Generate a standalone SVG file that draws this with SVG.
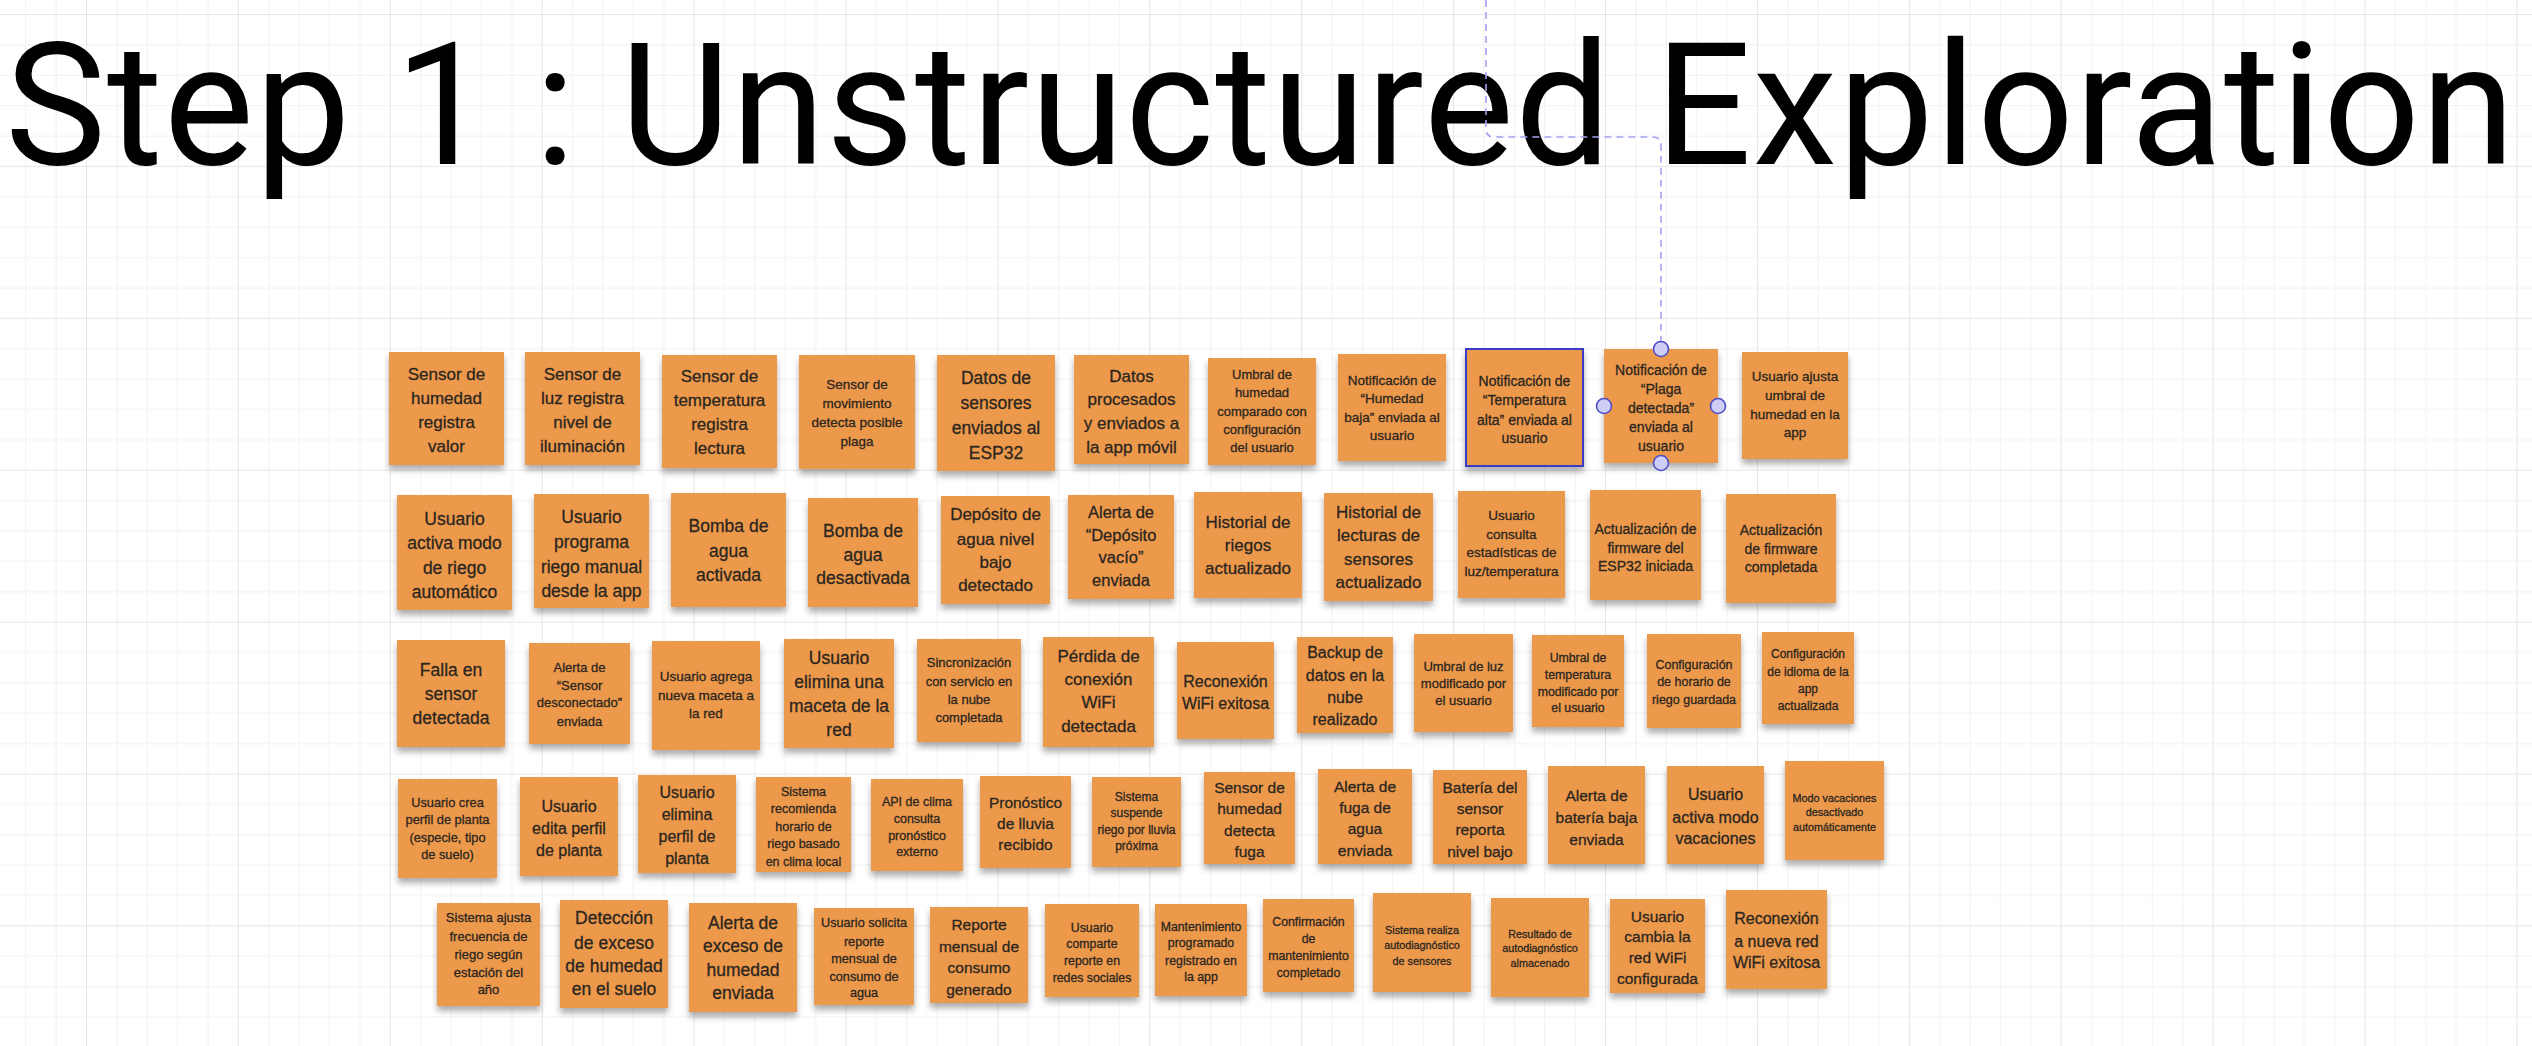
<svg xmlns="http://www.w3.org/2000/svg" width="2532" height="1046" viewBox="0 0 2532 1046">
<defs>
<pattern id="grid" patternUnits="userSpaceOnUse" x="86" y="14" width="151.9" height="151.9">
<rect x="30.38" y="0" width="1" height="151.9" fill="#f1f1f1"/>
<rect x="60.76" y="0" width="1" height="151.9" fill="#f1f1f1"/>
<rect x="91.14" y="0" width="1" height="151.9" fill="#f1f1f1"/>
<rect x="121.52" y="0" width="1" height="151.9" fill="#f1f1f1"/>
<rect x="0" y="30.38" width="151.9" height="1" fill="#f1f1f1"/>
<rect x="0" y="60.76" width="151.9" height="1" fill="#f1f1f1"/>
<rect x="0" y="91.14" width="151.9" height="1" fill="#f1f1f1"/>
<rect x="0" y="121.52" width="151.9" height="1" fill="#f1f1f1"/>
<rect x="0" y="0" width="1" height="151.9" fill="#e5e5e5"/>
<rect x="0" y="0" width="151.9" height="1" fill="#e5e5e5"/>
</pattern>
<filter id="sh" x="-20%" y="-20%" width="140%" height="150%">
<feDropShadow dx="0" dy="5" stdDeviation="3" flood-color="#000" flood-opacity="0.32"/>
</filter>
</defs>
<style>
.note{fill:#ED994B;filter:url(#sh)}
.sel{stroke:#3b3bc6;stroke-width:2}
.t{font-family:'Liberation Sans',Arial,sans-serif;fill:#2b2620;stroke:#2b2620;stroke-width:0.3;text-anchor:middle}
.title{font-family:Roboto,'Liberation Sans',Arial,sans-serif;fill:#000;font-size:170px}
.conn{fill:none;stroke:#a3a3f3;stroke-width:1.6;stroke-dasharray:7 5}
.handle{fill:#cdcdf6;stroke:#4d4dc9;stroke-width:1.6}
</style>
<rect width="2532" height="1046" fill="#ffffff"/>
<rect width="2532" height="1046" fill="url(#grid)"/>
<text class="title" x="5" y="164" textLength="2510" lengthAdjust="spacing">Step 1 : Unstructured Exploration</text>
<g id="connectors">
<path class="conn" d="M1486,0 V129 Q1486,137 1494,137 H1653 Q1661,137 1661,145 V341"/>
</g>
<g id="r1n1"><rect class="note" x="389" y="352" width="115" height="113"/><text class="t" style="font-size:17px"><tspan x="446.5" y="380">Sensor de</tspan><tspan x="446.5" y="404">humedad</tspan><tspan x="446.5" y="428">registra</tspan><tspan x="446.5" y="452">valor</tspan></text></g>
<g id="r1n2"><rect class="note" x="525" y="352" width="115" height="113"/><text class="t" style="font-size:17px"><tspan x="582.5" y="380">Sensor de</tspan><tspan x="582.5" y="404">luz registra</tspan><tspan x="582.5" y="428">nivel de</tspan><tspan x="582.5" y="452">iluminación</tspan></text></g>
<g id="r1n3"><rect class="note" x="662" y="355" width="115" height="113"/><text class="t" style="font-size:17px"><tspan x="719.5" y="382">Sensor de</tspan><tspan x="719.5" y="406">temperatura</tspan><tspan x="719.5" y="430">registra</tspan><tspan x="719.5" y="454">lectura</tspan></text></g>
<g id="r1n4"><rect class="note" x="799" y="355" width="116" height="114"/><text class="t" style="font-size:13.5px"><tspan x="857" y="389">Sensor de</tspan><tspan x="857" y="408">movimiento</tspan><tspan x="857" y="427">detecta posible</tspan><tspan x="857" y="446">plaga</tspan></text></g>
<g id="r1n5"><rect class="note" x="937" y="355" width="118" height="116"/><text class="t" style="font-size:17.5px"><tspan x="996" y="384">Datos de</tspan><tspan x="996" y="409">sensores</tspan><tspan x="996" y="434">enviados al</tspan><tspan x="996" y="459">ESP32</tspan></text></g>
<g id="r1n6"><rect class="note" x="1074" y="355" width="115" height="109"/><text class="t" style="font-size:17px"><tspan x="1131.5" y="382">Datos</tspan><tspan x="1131.5" y="405">procesados</tspan><tspan x="1131.5" y="429">y enviados a</tspan><tspan x="1131.5" y="453">la app móvil</tspan></text></g>
<g id="r1n7"><rect class="note" x="1208" y="358" width="108" height="107"/><text class="t" style="font-size:13px"><tspan x="1262" y="379">Umbral de</tspan><tspan x="1262" y="397">humedad</tspan><tspan x="1262" y="416">comparado con</tspan><tspan x="1262" y="434">configuración</tspan><tspan x="1262" y="452">del usuario</tspan></text></g>
<g id="r1n8"><rect class="note" x="1338" y="354" width="108" height="107"/><text class="t" style="font-size:13.5px"><tspan x="1392" y="385">Notificación de</tspan><tspan x="1392" y="403">“Humedad</tspan><tspan x="1392" y="422">baja” enviada al</tspan><tspan x="1392" y="440">usuario</tspan></text></g>
<g id="r1n9"><rect class="note sel" x="1466" y="349" width="117" height="117"/><text class="t" style="font-size:14px"><tspan x="1524.5" y="386">Notificación de</tspan><tspan x="1524.5" y="405">“Temperatura</tspan><tspan x="1524.5" y="425">alta” enviada al</tspan><tspan x="1524.5" y="443">usuario</tspan></text></g>
<g id="r1n10"><rect class="note" x="1604" y="349" width="114" height="114"/><text class="t" style="font-size:14px"><tspan x="1661" y="375">Notificación de</tspan><tspan x="1661" y="394">“Plaga</tspan><tspan x="1661" y="413">detectada”</tspan><tspan x="1661" y="432">enviada al</tspan><tspan x="1661" y="451">usuario</tspan></text>
<circle class="handle" cx="1661" cy="349" r="7.5"/><circle class="handle" cx="1661" cy="463" r="7.5"/><circle class="handle" cx="1604" cy="406" r="7.5"/><circle class="handle" cx="1718" cy="406" r="7.5"/></g>
<g id="r1n11"><rect class="note" x="1742" y="352" width="106" height="107"/><text class="t" style="font-size:13.5px"><tspan x="1795" y="381">Usuario ajusta</tspan><tspan x="1795" y="400">umbral de</tspan><tspan x="1795" y="419">humedad en la</tspan><tspan x="1795" y="437">app</tspan></text></g>
<g id="r2n1"><rect class="note" x="397" y="495" width="115" height="115"/><text class="t" style="font-size:17.5px"><tspan x="454.5" y="525">Usuario</tspan><tspan x="454.5" y="549">activa modo</tspan><tspan x="454.5" y="574">de riego</tspan><tspan x="454.5" y="598">automático</tspan></text></g>
<g id="r2n2"><rect class="note" x="534" y="494" width="115" height="114"/><text class="t" style="font-size:17.5px"><tspan x="591.5" y="523">Usuario</tspan><tspan x="591.5" y="548">programa</tspan><tspan x="591.5" y="573">riego manual</tspan><tspan x="591.5" y="597">desde la app</tspan></text></g>
<g id="r2n3"><rect class="note" x="671" y="493" width="115" height="114"/><text class="t" style="font-size:17.5px"><tspan x="728.5" y="532">Bomba de</tspan><tspan x="728.5" y="557">agua</tspan><tspan x="728.5" y="581">activada</tspan></text></g>
<g id="r2n4"><rect class="note" x="808" y="498" width="110" height="109"/><text class="t" style="font-size:17.5px"><tspan x="863" y="537">Bomba de</tspan><tspan x="863" y="561">agua</tspan><tspan x="863" y="584">desactivada</tspan></text></g>
<g id="r2n5"><rect class="note" x="941" y="496" width="109" height="108"/><text class="t" style="font-size:17px"><tspan x="995.5" y="520">Depósito de</tspan><tspan x="995.5" y="545">agua nivel</tspan><tspan x="995.5" y="568">bajo</tspan><tspan x="995.5" y="591">detectado</tspan></text></g>
<g id="r2n6"><rect class="note" x="1068" y="495" width="106" height="104"/><text class="t" style="font-size:16.5px"><tspan x="1121" y="518">Alerta de</tspan><tspan x="1121" y="541">“Depósito</tspan><tspan x="1121" y="563">vacío”</tspan><tspan x="1121" y="586">enviada</tspan></text></g>
<g id="r2n7"><rect class="note" x="1194" y="492" width="108" height="106"/><text class="t" style="font-size:17px"><tspan x="1248" y="528">Historial de</tspan><tspan x="1248" y="551">riegos</tspan><tspan x="1248" y="574">actualizado</tspan></text></g>
<g id="r2n8"><rect class="note" x="1324" y="493" width="109" height="108"/><text class="t" style="font-size:17px"><tspan x="1378.5" y="518">Historial de</tspan><tspan x="1378.5" y="541">lecturas de</tspan><tspan x="1378.5" y="565">sensores</tspan><tspan x="1378.5" y="588">actualizado</tspan></text></g>
<g id="r2n9"><rect class="note" x="1458" y="491" width="107" height="107"/><text class="t" style="font-size:13.5px"><tspan x="1511.5" y="520">Usuario</tspan><tspan x="1511.5" y="539">consulta</tspan><tspan x="1511.5" y="557">estadísticas de</tspan><tspan x="1511.5" y="576">luz/temperatura</tspan></text></g>
<g id="r2n10"><rect class="note" x="1590" y="490" width="111" height="110"/><text class="t" style="font-size:14px"><tspan x="1645.5" y="533.5">Actualización de</tspan><tspan x="1645.5" y="552.5">firmware del</tspan><tspan x="1645.5" y="570.5">ESP32 iniciada</tspan></text></g>
<g id="r2n11"><rect class="note" x="1726" y="494" width="110" height="109"/><text class="t" style="font-size:14px"><tspan x="1781" y="534.5">Actualización</tspan><tspan x="1781" y="553.5">de firmware</tspan><tspan x="1781" y="571.5">completada</tspan></text></g>
<g id="r3n1"><rect class="note" x="397" y="640" width="108" height="107"/><text class="t" style="font-size:17.5px"><tspan x="451" y="676">Falla en</tspan><tspan x="451" y="700">sensor</tspan><tspan x="451" y="724">detectada</tspan></text></g>
<g id="r3n2"><rect class="note" x="529" y="643" width="101" height="101"/><text class="t" style="font-size:13px"><tspan x="579.5" y="672">Alerta de</tspan><tspan x="579.5" y="690">“Sensor</tspan><tspan x="579.5" y="707">desconectado”</tspan><tspan x="579.5" y="726">enviada</tspan></text></g>
<g id="r3n3"><rect class="note" x="652" y="641" width="108" height="109"/><text class="t" style="font-size:13.5px"><tspan x="706" y="681">Usuario agrega</tspan><tspan x="706" y="700">nueva maceta a</tspan><tspan x="706" y="718">la red</tspan></text></g>
<g id="r3n4"><rect class="note" x="784" y="639" width="110" height="109"/><text class="t" style="font-size:17.5px"><tspan x="839" y="664">Usuario</tspan><tspan x="839" y="688">elimina una</tspan><tspan x="839" y="712">maceta de la</tspan><tspan x="839" y="736">red</tspan></text></g>
<g id="r3n5"><rect class="note" x="917" y="639" width="104" height="103"/><text class="t" style="font-size:13px"><tspan x="969" y="667">Sincronización</tspan><tspan x="969" y="686">con servicio en</tspan><tspan x="969" y="704">la nube</tspan><tspan x="969" y="722">completada</tspan></text></g>
<g id="r3n6"><rect class="note" x="1043" y="637" width="111" height="110"/><text class="t" style="font-size:17px"><tspan x="1098.5" y="662">Pérdida de</tspan><tspan x="1098.5" y="685">conexión</tspan><tspan x="1098.5" y="708">WiFi</tspan><tspan x="1098.5" y="732">detectada</tspan></text></g>
<g id="r3n7"><rect class="note" x="1177" y="642" width="97" height="97"/><text class="t" style="font-size:16px"><tspan x="1225.5" y="687">Reconexión</tspan><tspan x="1225.5" y="709">WiFi exitosa</tspan></text></g>
<g id="r3n8"><rect class="note" x="1297" y="637" width="96" height="96"/><text class="t" style="font-size:16px"><tspan x="1345" y="658">Backup de</tspan><tspan x="1345" y="681">datos en la</tspan><tspan x="1345" y="703">nube</tspan><tspan x="1345" y="725">realizado</tspan></text></g>
<g id="r3n9"><rect class="note" x="1414" y="634" width="99" height="98"/><text class="t" style="font-size:13px"><tspan x="1463.5" y="671">Umbral de luz</tspan><tspan x="1463.5" y="688">modificado por</tspan><tspan x="1463.5" y="705">el usuario</tspan></text></g>
<g id="r3n10"><rect class="note" x="1532" y="635" width="92" height="92"/><text class="t" style="font-size:12.3px"><tspan x="1578" y="662">Umbral de</tspan><tspan x="1578" y="679">temperatura</tspan><tspan x="1578" y="696">modificado por</tspan><tspan x="1578" y="712">el usuario</tspan></text></g>
<g id="r3n11"><rect class="note" x="1647" y="634" width="94" height="94"/><text class="t" style="font-size:12.5px"><tspan x="1694" y="669">Configuración</tspan><tspan x="1694" y="686">de horario de</tspan><tspan x="1694" y="704">riego guardada</tspan></text></g>
<g id="r3n12"><rect class="note" x="1762" y="632" width="92" height="92"/><text class="t" style="font-size:12px"><tspan x="1808" y="658">Configuración</tspan><tspan x="1808" y="676">de idioma de la</tspan><tspan x="1808" y="693">app</tspan><tspan x="1808" y="710">actualizada</tspan></text></g>
<g id="r4n1"><rect class="note" x="398" y="779" width="99" height="99"/><text class="t" style="font-size:12.8px"><tspan x="447.5" y="807">Usuario crea</tspan><tspan x="447.5" y="824">perfil de planta</tspan><tspan x="447.5" y="842">(especie, tipo</tspan><tspan x="447.5" y="859">de suelo)</tspan></text></g>
<g id="r4n2"><rect class="note" x="520" y="777" width="98" height="99"/><text class="t" style="font-size:16px"><tspan x="569" y="812">Usuario</tspan><tspan x="569" y="834">edita perfil</tspan><tspan x="569" y="856">de planta</tspan></text></g>
<g id="r4n3"><rect class="note" x="638" y="775" width="98" height="98"/><text class="t" style="font-size:16px"><tspan x="687" y="798">Usuario</tspan><tspan x="687" y="820">elimina</tspan><tspan x="687" y="842">perfil de</tspan><tspan x="687" y="864">planta</tspan></text></g>
<g id="r4n4"><rect class="note" x="756" y="777" width="95" height="95"/><text class="t" style="font-size:12.5px"><tspan x="803.5" y="796">Sistema</tspan><tspan x="803.5" y="813">recomienda</tspan><tspan x="803.5" y="831">horario de</tspan><tspan x="803.5" y="848">riego basado</tspan><tspan x="803.5" y="866">en clima local</tspan></text></g>
<g id="r4n5"><rect class="note" x="871" y="779" width="92" height="92"/><text class="t" style="font-size:12.5px"><tspan x="917" y="806">API de clima</tspan><tspan x="917" y="823">consulta</tspan><tspan x="917" y="840">pronóstico</tspan><tspan x="917" y="856">externo</tspan></text></g>
<g id="r4n6"><rect class="note" x="980" y="776" width="91" height="92"/><text class="t" style="font-size:15.5px"><tspan x="1025.5" y="808">Pronóstico</tspan><tspan x="1025.5" y="829">de lluvia</tspan><tspan x="1025.5" y="850">recibido</tspan></text></g>
<g id="r4n7"><rect class="note" x="1092" y="777" width="89" height="90"/><text class="t" style="font-size:12px"><tspan x="1136.5" y="801">Sistema</tspan><tspan x="1136.5" y="817">suspende</tspan><tspan x="1136.5" y="834">riego por lluvia</tspan><tspan x="1136.5" y="850">próxima</tspan></text></g>
<g id="r4n8"><rect class="note" x="1204" y="772" width="91" height="92"/><text class="t" style="font-size:15.5px"><tspan x="1249.5" y="793">Sensor de</tspan><tspan x="1249.5" y="814">humedad</tspan><tspan x="1249.5" y="836">detecta</tspan><tspan x="1249.5" y="857">fuga</tspan></text></g>
<g id="r4n9"><rect class="note" x="1318" y="769" width="94" height="95"/><text class="t" style="font-size:15.5px"><tspan x="1365" y="792">Alerta de</tspan><tspan x="1365" y="813">fuga de</tspan><tspan x="1365" y="834">agua</tspan><tspan x="1365" y="856">enviada</tspan></text></g>
<g id="r4n10"><rect class="note" x="1433" y="770" width="94" height="94"/><text class="t" style="font-size:15.5px"><tspan x="1480" y="793">Batería del</tspan><tspan x="1480" y="814">sensor</tspan><tspan x="1480" y="835">reporta</tspan><tspan x="1480" y="857">nivel bajo</tspan></text></g>
<g id="r4n11"><rect class="note" x="1548" y="766" width="97" height="98"/><text class="t" style="font-size:15.5px"><tspan x="1596.5" y="801">Alerta de</tspan><tspan x="1596.5" y="823">batería baja</tspan><tspan x="1596.5" y="845">enviada</tspan></text></g>
<g id="r4n12"><rect class="note" x="1667" y="766" width="97" height="98"/><text class="t" style="font-size:16px"><tspan x="1715.5" y="800">Usuario</tspan><tspan x="1715.5" y="823">activa modo</tspan><tspan x="1715.5" y="844">vacaciones</tspan></text></g>
<g id="r4n13"><rect class="note" x="1785" y="761" width="99" height="99"/><text class="t" style="font-size:10.8px"><tspan x="1834.5" y="801.5">Modo vacaciones</tspan><tspan x="1834.5" y="815.5">desactivado</tspan><tspan x="1834.5" y="830.5">automáticamente</tspan></text></g>
<g id="r5n1"><rect class="note" x="437" y="903" width="103" height="103"/><text class="t" style="font-size:13px"><tspan x="488.5" y="922">Sistema ajusta</tspan><tspan x="488.5" y="941">frecuencia de</tspan><tspan x="488.5" y="959">riego según</tspan><tspan x="488.5" y="977">estación del</tspan><tspan x="488.5" y="994">año</tspan></text></g>
<g id="r5n2"><rect class="note" x="560" y="900" width="108" height="108"/><text class="t" style="font-size:17.5px"><tspan x="614" y="924">Detección</tspan><tspan x="614" y="949">de exceso</tspan><tspan x="614" y="972">de humedad</tspan><tspan x="614" y="995">en el suelo</tspan></text></g>
<g id="r5n3"><rect class="note" x="689" y="903" width="108" height="109"/><text class="t" style="font-size:17.5px"><tspan x="743" y="929">Alerta de</tspan><tspan x="743" y="952">exceso de</tspan><tspan x="743" y="976">humedad</tspan><tspan x="743" y="999">enviada</tspan></text></g>
<g id="r5n4"><rect class="note" x="814" y="908" width="100" height="97"/><text class="t" style="font-size:12.7px"><tspan x="864" y="927">Usuario solicita</tspan><tspan x="864" y="946">reporte</tspan><tspan x="864" y="963">mensual de</tspan><tspan x="864" y="981">consumo de</tspan><tspan x="864" y="997">agua</tspan></text></g>
<g id="r5n5"><rect class="note" x="930" y="907" width="98" height="96"/><text class="t" style="font-size:15.5px"><tspan x="979" y="930">Reporte</tspan><tspan x="979" y="952">mensual de</tspan><tspan x="979" y="973">consumo</tspan><tspan x="979" y="995">generado</tspan></text></g>
<g id="r5n6"><rect class="note" x="1045" y="904" width="94" height="93"/><text class="t" style="font-size:12.3px"><tspan x="1092" y="932">Usuario</tspan><tspan x="1092" y="948">comparte</tspan><tspan x="1092" y="965">reporte en</tspan><tspan x="1092" y="982">redes sociales</tspan></text></g>
<g id="r5n7"><rect class="note" x="1155" y="904" width="92" height="92"/><text class="t" style="font-size:12.3px"><tspan x="1201" y="931">Mantenimiento</tspan><tspan x="1201" y="947">programado</tspan><tspan x="1201" y="965">registrado en</tspan><tspan x="1201" y="981">la app</tspan></text></g>
<g id="r5n8"><rect class="note" x="1263" y="899" width="91" height="93"/><text class="t" style="font-size:12.3px"><tspan x="1308.5" y="926">Confirmación</tspan><tspan x="1308.5" y="943">de</tspan><tspan x="1308.5" y="960">mantenimiento</tspan><tspan x="1308.5" y="977">completado</tspan></text></g>
<g id="r5n9"><rect class="note" x="1373" y="893" width="98" height="99"/><text class="t" style="font-size:10.8px"><tspan x="1422" y="933.5">Sistema realiza</tspan><tspan x="1422" y="948.5">autodiagnóstico</tspan><tspan x="1422" y="964.5">de sensores</tspan></text></g>
<g id="r5n10"><rect class="note" x="1491" y="898" width="98" height="99"/><text class="t" style="font-size:10.8px"><tspan x="1540" y="937.5">Resultado de</tspan><tspan x="1540" y="951.5">autodiagnóstico</tspan><tspan x="1540" y="966.5">almacenado</tspan></text></g>
<g id="r5n11"><rect class="note" x="1610" y="899" width="95" height="94"/><text class="t" style="font-size:15.5px"><tspan x="1657.5" y="922">Usuario</tspan><tspan x="1657.5" y="942">cambia la</tspan><tspan x="1657.5" y="963">red WiFi</tspan><tspan x="1657.5" y="984">configurada</tspan></text></g>
<g id="r5n12"><rect class="note" x="1726" y="890" width="101" height="99"/><text class="t" style="font-size:16px"><tspan x="1776.5" y="924">Reconexión</tspan><tspan x="1776.5" y="947">a nueva red</tspan><tspan x="1776.5" y="968">WiFi exitosa</tspan></text></g>
</svg>
